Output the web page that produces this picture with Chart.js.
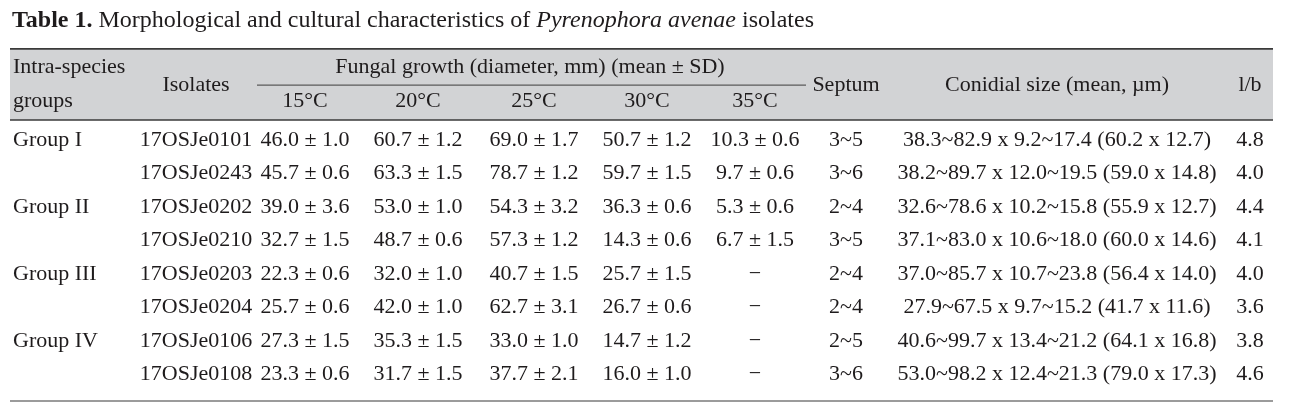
<!DOCTYPE html>
<html>
<head>
<meta charset="utf-8">
<script src="https://cdn.jsdelivr.net/npm/chart.js@4.4.1/dist/chart.umd.min.js"></script>
<style>
  html, body { margin: 0; padding: 0; background: #fff; overflow: hidden; }
  canvas { display: block; }
</style>
</head>
<body>
<canvas id="table" width="1293" height="404"></canvas>
<script>
/* Table 1 — P. avenae isolates, drawn as a hidden-axis scatter with text cells. */

const SERIF = '"Liberation Serif", "Times New Roman", serif';
const INK = "#1e1b1c";

// ---- data ----
const groups = ["Group I", "", "Group II", "", "Group III", "", "Group IV", ""];
const isolates = ["17OSJe0101", "17OSJe0243", "17OSJe0202", "17OSJe0210",
                  "17OSJe0203", "17OSJe0204", "17OSJe0106", "17OSJe0108"];
const temps = ["15°C", "20°C", "25°C", "30°C", "35°C"];
const growthMean = [
  [46.0, 45.7, 39.0, 32.7, 22.3, 25.7, 27.3, 23.3],   // 15°C
  [60.7, 63.3, 53.0, 48.7, 32.0, 42.0, 35.3, 31.7],   // 20°C
  [69.0, 78.7, 54.3, 57.3, 40.7, 62.7, 33.0, 37.7],   // 25°C
  [50.7, 59.7, 36.3, 14.3, 25.7, 26.7, 14.7, 16.0],   // 30°C
  [10.3, 9.7, 5.3, 6.7, null, null, null, null],      // 35°C
];
const growthSD = [
  [1.0, 0.6, 3.6, 1.5, 0.6, 0.6, 1.5, 0.6],
  [1.2, 1.5, 1.0, 0.6, 1.0, 1.0, 1.5, 1.5],
  [1.7, 1.2, 3.2, 1.2, 1.5, 3.1, 1.0, 2.1],
  [1.2, 1.5, 0.6, 0.6, 1.5, 0.6, 1.2, 1.0],
  [0.6, 0.6, 0.6, 1.5, null, null, null, null],
];
const septum = ["3~5", "3~6", "2~4", "3~5", "2~4", "2~4", "2~5", "3~6"];
const lenMin = [38.3, 38.2, 32.6, 37.1, 37.0, 27.9, 40.6, 53.0];
const lenMax = [82.9, 89.7, 78.6, 83.0, 85.7, 67.5, 99.7, 98.2];
const widMin = [9.2, 12.0, 10.2, 10.6, 10.7, 9.7, 13.4, 12.4];
const widMax = [17.4, 19.5, 15.8, 18.0, 23.8, 15.2, 21.2, 21.3];
const lenMean = [60.2, 59.0, 55.9, 60.0, 56.4, 41.7, 64.1, 79.0];
const widMean = [12.7, 14.8, 12.7, 14.6, 14.0, 11.6, 16.8, 17.3];
const lb = [4.8, 4.0, 4.4, 4.1, 4.0, 3.6, 3.8, 4.6];

// ---- formatting ----
const f1 = (v) => v.toFixed(1);
const meanSD = (m, s) => (m == null ? "\u2212" : `${f1(m)} ± ${f1(s)}`);
const conidial = lenMin.map((_, i) =>
  `${f1(lenMin[i])}~${f1(lenMax[i])} x ${f1(widMin[i])}~${f1(widMax[i])} (${f1(lenMean[i])} x ${f1(widMean[i])})`);

// ---- layout (x in page units, y in row units) ----
const COL_X = { group: 13, isolate: 196, temp: [305, 418, 534, 647, 755], septum: 846, conidial: 1057, lb: 1250 };
const TABLE_L = 10, TABLE_R = 1273;
const ROW = { title: -3.55, topRule: -2.72, head1: -2.18, headMid: -1.64, head2: -1.16, headRule: -0.6, bottomRule: 7.79 };
const FONT = `22px ${SERIF}`;

const columns = [
  { x: COL_X.group, align: "left", cells: groups },
  { x: COL_X.isolate, cells: isolates },
  ...growthMean.map((col, c) => ({ x: COL_X.temp[c], cells: col.map((m, i) => meanSD(m, growthSD[c][i])) })),
  { x: COL_X.septum, cells: septum },
  { x: COL_X.conidial, cells: conidial },
  { x: COL_X.lb, cells: lb.map(f1) },
];

function text(ctx, str, x, y, align = "center", font = FONT) {
  ctx.font = font;
  ctx.fillStyle = INK;
  ctx.textAlign = align;
  ctx.textBaseline = "middle";
  ctx.fillText(str, x, y);
}

function hline(ctx, xs, y, x0, x1, width, color) {
  ctx.strokeStyle = color;
  ctx.lineWidth = width;
  ctx.beginPath();
  ctx.moveTo(xs.getPixelForValue(x0), y);
  ctx.lineTo(xs.getPixelForValue(x1), y);
  ctx.stroke();
}

const tablePlugin = {
  id: "tableFrame",
  beforeDatasetsDraw(chart) {
    const { ctx, scales: { x: xs, y: ys } } = chart;
    const py = (v) => ys.getPixelForValue(v);
    ctx.save();

    // title, run of mixed styles
    const runs = [
      ["Table 1.", `bold 24px ${SERIF}`],
      [" Morphological and cultural characteristics of ", `24px ${SERIF}`],
      ["Pyrenophora avenae", `italic 24px ${SERIF}`],
      [" isolates", `24px ${SERIF}`],
    ];
    let tx = xs.getPixelForValue(12);
    runs.forEach(([s, font]) => {
      text(ctx, s, tx, py(ROW.title), "left", font);
      tx += ctx.measureText(s).width;
    });

    // header band
    ctx.fillStyle = "#d2d3d5";
    ctx.fillRect(xs.getPixelForValue(TABLE_L), py(ROW.topRule), xs.getPixelForValue(TABLE_R) - xs.getPixelForValue(TABLE_L),
      py(ROW.headRule) - py(ROW.topRule));
    hline(ctx, xs, py(ROW.topRule), TABLE_L, TABLE_R, 1.6, "#3a3a3a");
    hline(ctx, xs, py(ROW.headRule), TABLE_L, TABLE_R, 1.6, "#3a3a3a");
    hline(ctx, xs, py(ROW.headMid), 257, 806, 1.2, "#5a5a5a");
    hline(ctx, xs, py(ROW.bottomRule), TABLE_L, TABLE_R, 1.4, "#7a7a7a");

    text(ctx, "Intra-species", xs.getPixelForValue(COL_X.group), py(ROW.head1), "left");
    text(ctx, "groups", xs.getPixelForValue(COL_X.group), py(ROW.head2), "left");
    text(ctx, "Isolates", xs.getPixelForValue(COL_X.isolate), py(ROW.headMid));
    text(ctx, "Fungal growth (diameter, mm) (mean ± SD)", xs.getPixelForValue(530), py(ROW.head1));
    temps.forEach((t, c) => text(ctx, t, xs.getPixelForValue(COL_X.temp[c]), py(ROW.head2)));
    text(ctx, "Septum", xs.getPixelForValue(COL_X.septum), py(ROW.headMid));
    text(ctx, "Conidial size (mean, µm)", xs.getPixelForValue(COL_X.conidial), py(ROW.headMid));
    text(ctx, "l/b", xs.getPixelForValue(COL_X.lb), py(ROW.headMid));
    ctx.restore();
  },
  afterDatasetsDraw(chart) {
    const { ctx } = chart;
    ctx.save();
    chart.data.datasets.forEach((ds, d) => {
      chart.getDatasetMeta(d).data.forEach((pt, i) => {
        if (ds.cells[i]) text(ctx, ds.cells[i], pt.x, pt.y, ds.align || "center");
      });
    });
    ctx.restore();
  },
};

new Chart(document.getElementById("table"), {
  type: "scatter",
  data: {
    datasets: columns.map((col) => ({
      data: col.cells.map((_, i) => ({ x: col.x, y: i })),
      cells: col.cells,
      align: col.align,
      pointRadius: 0,
      pointHoverRadius: 0,
    })),
  },
  options: {
    responsive: false,
    animation: false,
    devicePixelRatio: 1,
    events: [],
    layout: { padding: 0 },
    plugins: { legend: { display: false }, tooltip: { enabled: false } },
    scales: {
      x: { type: "linear", min: 0, max: 1293, display: false },
      y: { type: "linear", min: -4.18, max: 7.88, reverse: true, display: false },
    },
  },
  plugins: [tablePlugin],
});
</script>
</body>
</html>
